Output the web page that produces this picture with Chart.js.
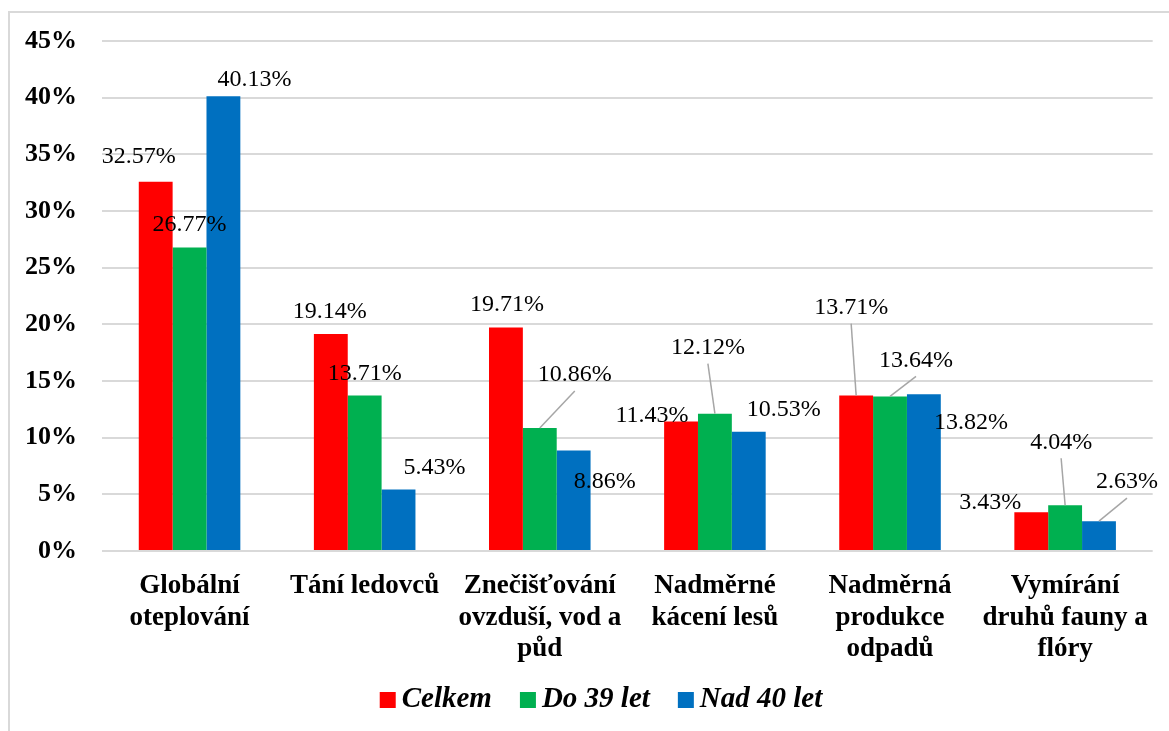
<!DOCTYPE html>
<html>
<head>
<meta charset="utf-8">
<script src="https://cdn.jsdelivr.net/npm/chart.js@4/dist/chart.umd.min.js"></script>
<style>
  body { margin: 0; background: #fff; }
</style>
</head>
<body>
<canvas id="graf" width="1169" height="731"></canvas>
<script>
// data
const kategorie = [
  ["Globální", "oteplování"],
  ["Tání ledovců"],
  ["Znečišťování", "ovzduší, vod a", "půd"],
  ["Nadměrné", "kácení lesů"],
  ["Nadměrná", "produkce", "odpadů"],
  ["Vymírání", "druhů fauny a", "flóry"]
];
const serie = ["Celkem", "Do 39 let", "Nad 40 let"];
const celkem = [32.57, 19.14, 19.71, 11.43, 13.71, 3.43];
const do39 = [26.77, 13.71, 10.86, 12.12, 13.64, 4.04];
const nad40 = [40.13, 5.43, 8.86, 10.53, 13.82, 2.63];
const barvy = ["#FF0000", "#00B050", "#0070C0"];

// where each value label sits, relative to the top of its bar (px)
const posunStitku = [
  [[-17, -25], [-1, -22], [1, -23], [-29, -6], [-5, -88], [-41, -9]],
  [[0, -23], [0, -22], [35, -53], [-7, -66], [26, -36], [-4, -63]],
  [[31, -16], [36, -22], [31, 31], [35, -22], [47, 28], [28, -39]]
];
const vodiciCary = [
  [0, 0, 0, 0, 1, 0],
  [0, 0, 1, 1, 1, 1],
  [0, 0, 0, 0, 0, 1]
];

const serif = '"Liberation Serif", "Times New Roman", serif';
Chart.defaults.color = "#000";

/* ramecek kolem grafu (jen horni a leva hrana jsou videt) */
const ramecek = {
  id: "ramecek",
  beforeDraw(chart) {
    const ctx = chart.ctx;
    ctx.save();
    ctx.fillStyle = "#fff";
    ctx.fillRect(0, 0, chart.width, chart.height);
    ctx.strokeStyle = "#D9D9D9";
    ctx.lineWidth = 2;
    ctx.strokeRect(9, 12, chart.width + 20, chart.height + 20);
    ctx.restore();
  }
};

/* popisky hodnot s vodicimi carami */
const stitky = {
  id: "stitky",
  afterDatasetsDraw(chart) {
    const ctx = chart.ctx;
    ctx.save();
    ctx.font = "24px " + serif;
    ctx.textAlign = "center";
    ctx.textBaseline = "middle";
    chart.data.datasets.forEach((ds, i) => {
      chart.getDatasetMeta(i).data.forEach((bar, j) => {
        const [dx, dy] = posunStitku[i][j];
        const lx = bar.x + dx;
        const ly = bar.y + dy;
        if (vodiciCary[i][j]) {
          ctx.strokeStyle = "#A6A6A6";
          ctx.lineWidth = 1.5;
          ctx.beginPath();
          ctx.moveTo(lx, ly + 16);
          ctx.lineTo(bar.x, bar.y);
          ctx.stroke();
        }
        ctx.fillStyle = "#000";
        ctx.fillText(ds.data[j].toFixed(2) + "%", lx, ly);
      });
    });
    ctx.restore();
  }
};

/* legenda dole - vlastni, aby sedely mezery jako v Excelu */
const legenda = {
  id: "legenda",
  afterDraw(chart) {
    const ctx = chart.ctx;
    const box = 16, mezera = 6, odstup = 28, stredY = 700;
    ctx.save();
    ctx.font = "italic bold 29px " + serif;
    ctx.textBaseline = "middle";
    ctx.textAlign = "left";
    const sirky = chart.data.datasets.map((ds) => ctx.measureText(ds.label).width);
    const celkova = sirky.reduce((a, w) => a + box + mezera + w, 0) + odstup * (sirky.length - 1);
    let x = 601 - celkova / 2;
    chart.data.datasets.forEach((ds, i) => {
      ctx.fillStyle = ds.backgroundColor;
      ctx.fillRect(x, stredY - box / 2, box, box);
      ctx.fillStyle = "#000";
      ctx.fillText(ds.label, x + box + mezera, stredY);
      x += box + mezera + sirky[i] + odstup;
    });
    ctx.restore();
  }
};

const graf = new Chart(document.getElementById("graf").getContext("2d"), {
  type: "bar",
  data: {
    labels: kategorie,
    datasets: [
      { label: serie[0], data: celkem, backgroundColor: barvy[0] },
      { label: serie[1], data: do39, backgroundColor: barvy[1] },
      { label: serie[2], data: nad40, backgroundColor: barvy[2] }
    ]
  },
  options: {
    responsive: false,
    animation: false,
    layout: { padding: { top: 41, right: 16, left: 0, bottom: 60.5 } },
    datasets: {
      bar: { categoryPercentage: 0.58, barPercentage: 1.0 }
    },
    scales: {
      x: {
        grid: { display: false, drawTicks: false },
        border: { display: false },
        ticks: {
          padding: 20,
          maxRotation: 0,
          autoSkip: false,
          font: { family: serif, size: 27, weight: "bold", lineHeight: 1.15 }
        },
        afterFit: (scale) => { scale.height = 119.5; }
      },
      y: {
        min: 0,
        max: 45,
        ticks: {
          stepSize: 5,
          padding: 25,
          callback: (v) => v + "%",
          font: { family: serif, size: 26, weight: "bold" }
        },
        grid: { color: "#D9D9D9", lineWidth: 2, drawTicks: false },
        border: { display: false },
        afterFit: (scale) => { scale.width = 102; }
      }
    },
    plugins: {
      legend: { display: false },
      tooltip: { enabled: false }
    }
  },
  plugins: [ramecek, stitky, legenda]
});
</script>
</body>
</html>
